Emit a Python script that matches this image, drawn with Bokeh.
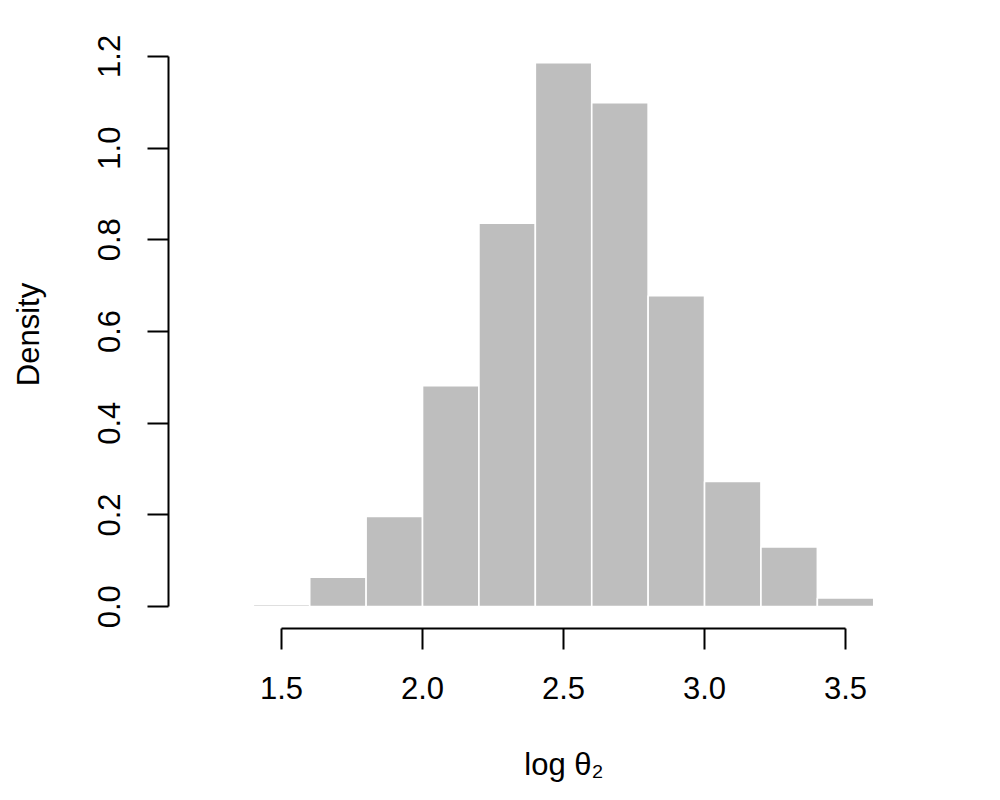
from bokeh.plotting import figure
from bokeh.models import FixedTicker, PrintfTickFormatter, Range1d
from bokeh.embed import file_html
from bokeh.resources import INLINE

# histogram data (break edges and densities)
bin_left = [1.4, 1.6, 1.8, 2.0, 2.2, 2.4, 2.6, 2.8, 3.0, 3.2, 3.4]
bin_right = [1.6, 1.8, 2.0, 2.2, 2.4, 2.6, 2.8, 3.0, 3.2, 3.4, 3.6]
density = [0.005, 0.064, 0.197, 0.482, 0.836, 1.186, 1.099, 0.678, 0.273, 0.130, 0.019]

x_ticks = [1.5, 2.0, 2.5, 3.0, 3.5]
y_ticks = [0.0, 0.2, 0.4, 0.6, 0.8, 1.0, 1.2]

FONT = "Liberation Sans"
FS = "31px"

p = figure(width=984, height=784, output_backend="svg", toolbar_location=None,
           x_range=Range1d(1.0993, 3.904), y_range=Range1d(-0.0476, 1.2346),
           min_border_left=168, min_border_right=25, min_border_top=40, min_border_bottom=152)
p.outline_line_color = None
p.grid.visible = False
p.background_fill_color = "white"

p.quad(left=bin_left, right=bin_right, bottom=0, top=density,
       fill_color="#BEBEBE", line_color="white", line_width=1.6)

for ax, ticks, lab in ((p.xaxis[0], x_ticks, "log θ₂"), (p.yaxis[0], y_ticks, "Density")):
    ax.ticker = FixedTicker(ticks=ticks)
    ax.bounds = (min(ticks), max(ticks))
    ax.formatter = PrintfTickFormatter(format="%.1f")
    ax.minor_tick_line_color = None
    ax.major_tick_in = 0
    ax.major_tick_out = 21
    ax.major_tick_line_width = 2
    ax.axis_line_width = 2
    ax.axis_line_color = "black"
    ax.major_tick_line_color = "black"
    ax.major_label_text_font = FONT
    ax.major_label_text_font_size = FS
    ax.major_label_text_color = "black"
    ax.axis_label = lab
    ax.axis_label_text_font = FONT
    ax.axis_label_text_font_size = FS
    ax.axis_label_text_font_style = "normal"
    ax.axis_label_text_color = "black"

p.xaxis.major_label_standoff = 27
p.xaxis.axis_label_standoff = 45
p.yaxis.major_label_orientation = "vertical"
p.yaxis.major_label_standoff = 27
p.yaxis.axis_label_standoff = 50

open("out.html", "w").write(file_html(p, INLINE))
